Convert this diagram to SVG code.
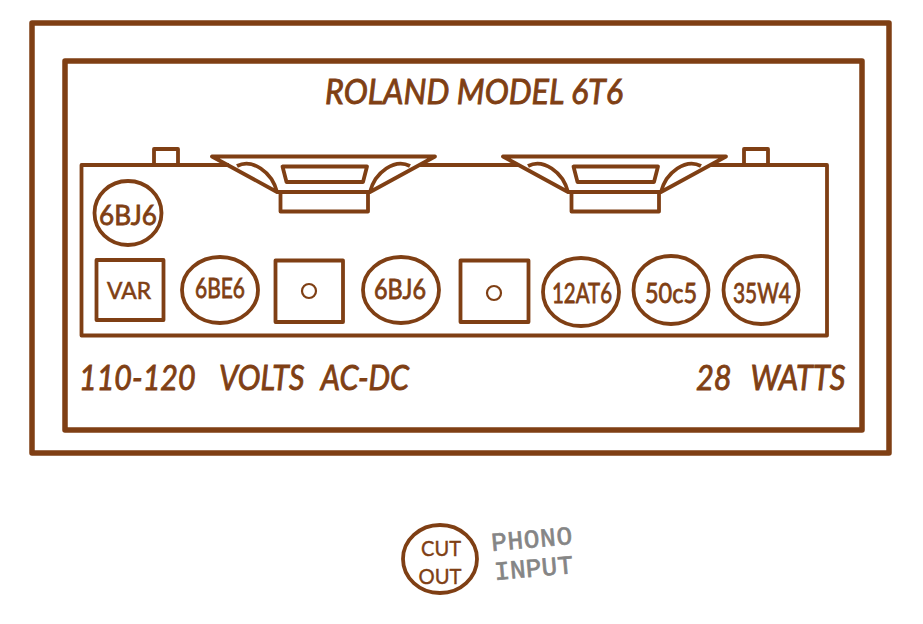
<svg xmlns="http://www.w3.org/2000/svg" xmlns:xlink="http://www.w3.org/1999/xlink" width="923" height="624" viewBox="0 0 923 624">
<style>
.l{fill:none;stroke:#7f3f14;stroke-width:3.8;stroke-linejoin:round}
.b{fill:none;stroke:#7f3f14;stroke-width:5.5;stroke-linejoin:round}
.o{fill:none;stroke:#7f3f14;stroke-width:2.2}
.t{fill:#7f3f14;font-family:"Lato","Open Sans",sans-serif;text-anchor:middle}
.i{font-style:italic;font-weight:400;stroke:#7f3f14;stroke-width:.9;font-size:35px;text-anchor:start}
.tube{font-size:27px;stroke:#7f3f14;stroke-width:.8}
.g{fill:#858585;stroke:#858585;stroke-width:.7;font-family:"Liberation Mono",monospace;font-size:26px}
</style>
<defs>
<g id="speaker">
<path class="l" d="M212 156.500H435L370 192H277Z"/>
<path class="l" d="M280.500 192H368V211.500H280.500Z"/>
<path class="l" d="M282.500 166.500H367L363 182H286.500Z"/>
<path class="l" d="M237 166C252 158 272 172 277 192M410 166C395 158 375 172 370 192"/>
</g>
</defs>
<rect x="0" y="0" width="923" height="624" fill="#fff"/>
<g id="cabinet"><rect class="b" x="32" y="23" width="857" height="430"/></g>
<g id="panel"><rect class="b" x="65" y="61" width="797" height="369"/></g>
<g id="chassis"><path class="l" d="M229 165H81.500V335.500H827V165H711M420 165H518"/></g>
<g id="tab-left"><rect class="l" x="154" y="149" width="24" height="16"/></g>
<g id="tab-right"><rect class="l" x="744" y="149" width="24" height="16"/></g>
<g id="speaker-left"><use xlink:href="#speaker" href="#speaker"/></g>
<g id="speaker-right"><use xlink:href="#speaker" href="#speaker" x="291"/></g>
<g id="title"><text class="t i" x="325" y="104" textLength="298" lengthAdjust="spacingAndGlyphs">ROLAND MODEL 6T6</text></g>
<g id="tube-6bj6-top"><ellipse class="l" cx="128" cy="213" rx="33.500" ry="32"/><text class="t tube" x="128" y="225" textLength="58" lengthAdjust="spacingAndGlyphs">6BJ6</text></g>
<g id="var"><rect class="l" x="96.500" y="260" width="67" height="60"/><text class="t" x="129" y="299" font-size="24" stroke="#7f3f14" stroke-width=".6" textLength="44" lengthAdjust="spacingAndGlyphs">VAR</text></g>
<g id="tube-6be6"><ellipse class="l" cx="220" cy="290" rx="38" ry="33"/><text class="t tube" x="220" y="298" textLength="50" lengthAdjust="spacingAndGlyphs">6BE6</text></g>
<g id="pot-1"><rect class="l" x="275.500" y="260.500" width="67.500" height="61.500"/><circle class="o" cx="309" cy="291" r="7"/></g>
<g id="tube-6bj6"><ellipse class="l" cx="401" cy="290" rx="38" ry="33"/><text class="t tube" x="400" y="299" textLength="52" lengthAdjust="spacingAndGlyphs">6BJ6</text></g>
<g id="pot-2"><rect class="l" x="460.500" y="260.500" width="68" height="61.500"/><circle class="o" cx="494" cy="293" r="7"/></g>
<g id="tube-12at6"><ellipse class="l" cx="581" cy="292" rx="38" ry="34"/><text class="t tube" x="582" y="303" textLength="60" lengthAdjust="spacingAndGlyphs">12AT6</text></g>
<g id="tube-50c5"><ellipse class="l" cx="671" cy="290" rx="37.500" ry="34"/><text class="t tube" x="671" y="303" textLength="52" lengthAdjust="spacingAndGlyphs">50c5</text></g>
<g id="tube-35w4"><ellipse class="l" cx="761" cy="290" rx="37.500" ry="34"/><text class="t tube" x="762" y="303" textLength="58" lengthAdjust="spacingAndGlyphs">35W4</text></g>
<g id="volts"><text class="t i" transform="translate(79 390) scale(.87 1)"><tspan x="0">110-120</tspan><tspan x="161">VOLTS</tspan><tspan x="278">AC-DC</tspan></text></g>
<g id="watts"><text class="t i" transform="translate(696 390) scale(.88 1)"><tspan x="0">28</tspan><tspan x="62">WATTS</tspan></text></g>
<g id="cut-out"><ellipse class="l" cx="440" cy="559" rx="37" ry="34"/><text class="t" x="441" y="556" font-size="21" stroke="#7f3f14" stroke-width=".4" textLength="40" lengthAdjust="spacingAndGlyphs">CUT</text><text class="t" x="440" y="584" font-size="21" stroke="#7f3f14" stroke-width=".4" textLength="43" lengthAdjust="spacingAndGlyphs">OUT</text></g>
<g id="phono"><text class="g" transform="translate(492 551) rotate(-5)" textLength="81" lengthAdjust="spacing">PHONO</text><text class="g" transform="translate(495 580) rotate(-5)" textLength="79" lengthAdjust="spacing">INPUT</text></g>
</svg>
